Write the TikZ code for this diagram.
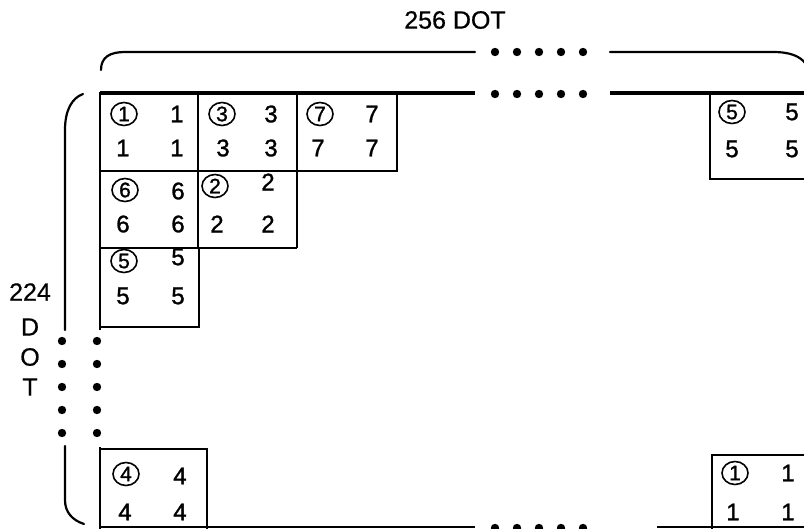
\documentclass[tikz,border=0pt]{standalone}
\usepackage{fontspec}
\setmainfont{Liberation Sans}
\newfontfamily\digfont[FakeBold=1.3]{Liberation Sans}
\newfontfamily\labfont[FakeBold=0.6]{Liberation Sans}
\usetikzlibrary{shapes.geometric}
\begin{document}
\begin{tikzpicture}[x=1pt,y=-1pt,
  dig/.style={font=\digfont\fontsize{24}{24}\selectfont, inner sep=0pt},
  cdig/.style={inner sep=0pt, font=\digfont\fontsize{21}{21}\selectfont, ellipse, draw, line width=1.6pt, minimum width=26pt, minimum height=23pt},
  lab/.style={font=\labfont\fontsize{25}{25}\selectfont, inner sep=0pt},
  boxline/.style={line width=2.6pt},
  border/.style={line width=3.5pt},
  brace/.style={line width=2.2pt, line cap=round},
  blob/.style={fill=black}]
\useasboundingbox (0,0) rectangle (804,528);
\clip (0,0) rectangle (804,528);
% labels
\node[lab] (top) at (455,20) {256 DOT};
\node[lab] (n224) at (30,292) {224};
\node[lab] (lD) at (30,327) {D};
\node[lab] (lO) at (30,357) {O};
\node[lab] (lT) at (30,387) {T};
% braces
\draw[brace] (101,70) .. controls (101,57) and (110,52) .. (125,52) -- (475,52);
\draw[brace] (610,52) -- (773,52) .. controls (790,52) and (800,56) .. (806,64);
\draw[brace] (83,94) .. controls (72,98) and (65,110) .. (65,130) -- (65,330);
\draw[brace] (65,446) -- (65,500) .. controls (65,512) and (72,520) .. (84,524);
% dots
\foreach \x in {495,517,539,561,583} {
  \fill[blob] (\x,52) circle (4.2);
  \fill[blob] (\x,94) circle (4.2);
  \fill[blob] (\x,528) circle (4.2);
}
\foreach \y in {341,364,387,410,433} {
  \fill[blob] (62,\y) circle (4.2);
  \fill[blob] (97,\y) circle (4.2);
}
% border lines
\draw[border] (100,93) -- (475,93);
\draw[border] (610,93) -- (806,93);
\draw[line width=1.4pt] (100,527) -- (475,527);
\draw[line width=1.4pt] (657,527) -- (806,527);
% boxes
\draw[boxline] (100,93) rectangle (397,171);
\draw[boxline] (198,93) -- (198,248);
\draw[boxline] (297,93) -- (297,248);
\draw[boxline] (100,248) -- (297,248);
\draw[boxline] (100,93) -- (100,330);
\draw[boxline] (100,327) -- (199,327) -- (199,248);
\draw[boxline] (100,447) -- (100,530);
\draw[boxline] (100,449) -- (207,449) -- (207,530);
\draw[boxline] (710,93) -- (710,179) -- (806,179);
\draw[boxline] (712,530) -- (712,455) -- (806,455);
% box 1
\node[cdig] (a1) at (124,114) {1};
\node[dig] (a2) at (177,114) {1};
\node[dig] (a3) at (123,148) {1};
\node[dig] (a4) at (177,148) {1};
% box 3
\node[cdig] (b1) at (222,114) {3};
\node[dig] (b2) at (271,114) {3};
\node[dig] (b3) at (223,148) {3};
\node[dig] (b4) at (271,148) {3};
% box 7
\node[cdig] (c1) at (320,114) {7};
\node[dig] (c2) at (372,114) {7};
\node[dig] (c3) at (318,148) {7};
\node[dig] (c4) at (372,148) {7};
% box 6
\node[cdig] (d1) at (125,190) {6};
\node[dig] (d2) at (178,191) {6};
\node[dig] (d3) at (123,224) {6};
\node[dig] (d4) at (178,224) {6};
% box 2
\node[cdig] (e1) at (215,186) {2};
\node[dig] (e2) at (268,182) {2};
\node[dig] (e3) at (217,224) {2};
\node[dig] (e4) at (268,224) {2};
% box 5
\node[cdig] (f1) at (124,261) {5};
\node[dig] (f2) at (178,257) {5};
\node[dig] (f3) at (123,296) {5};
\node[dig] (f4) at (178,296) {5};
% box 4
\node[cdig] (g1) at (126,474) {4};
\node[dig] (g2) at (180,476) {4};
\node[dig] (g3) at (125,512) {4};
\node[dig] (g4) at (180,512) {4};
% right box 5
\node[cdig] (h1) at (732,112) {5};
\node[dig] (h2) at (792,112) {5};
\node[dig] (h3) at (732,149) {5};
\node[dig] (h4) at (792,149) {5};
% bottom right box 1
\node[cdig] (i1) at (735,473) {1};
\node[dig] (i2) at (788,473) {1};
\node[dig] (i3) at (733,512) {1};
\node[dig] (i4) at (788,512) {1};
\end{tikzpicture}
\end{document}
